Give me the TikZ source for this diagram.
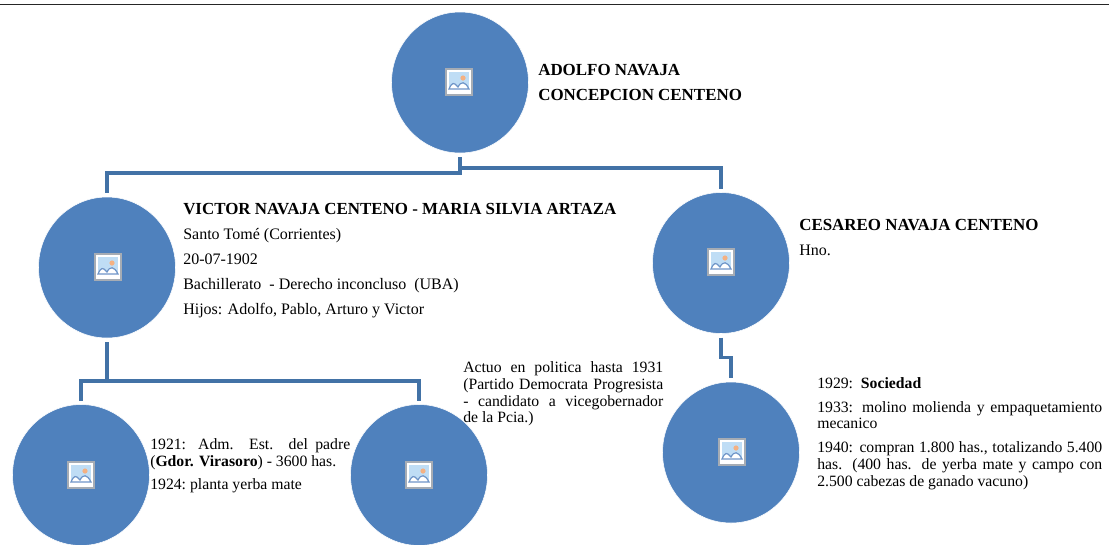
\documentclass[tikz,border=0pt]{standalone}
\usepackage{fontspec}
\setmainfont{Liberation Serif}
\usepackage{tikz}
\usetikzlibrary{shapes.geometric}
\definecolor{circblue}{HTML}{4F81BD}
\definecolor{linkblue}{HTML}{4272A6}
\definecolor{iconsky}{HTML}{BFDDF5}
\definecolor{iconedge}{HTML}{A6ACB4}
\definecolor{iconhill}{HTML}{6F95C8}
\definecolor{iconsun}{HTML}{F4B183}
\newcommand{\notefont}{\fontsize{11.8}{12.7}\selectfont\setlength{\parskip}{5.2pt}\hyphenpenalty=10000 }
\tikzset{
    person/.style={ellipse, fill=circblue, draw=white, line width=0.4pt, minimum width=102.75pt, minimum height=105.75pt, inner sep=0pt, outer sep=3pt},
    link/.style={draw=linkblue, line width=2.6pt},
    headtxt/.style={anchor=north west, inner sep=0pt, align=left, font=\fontsize{12.7}{18.75}\selectfont},
    bio/.style={anchor=north west, inner sep=0pt, align=left, font=\fontsize{12}{18.75}\selectfont},
    note/.style={anchor=north west, inner sep=0pt, align=justify, font=\notefont},
    imgicon/.pic={
        \fill[white] (-13,-13) rectangle (13,13);
        \draw[iconedge, line width=0.9pt] (-13,-13) rectangle (13,13);
        \fill[iconsky] (-10,-10) rectangle (10,7);
        \fill[iconsun] (4,-4) circle (2.6);
        \draw[iconhill, fill=white, line width=0.9pt] (-10,7) .. controls (-7,0) and (-5,0) .. (-1,5) .. controls (2,-1) and (6,-1) .. (10,7) -- cycle;
    }
}
\begin{document}
\begin{tikzpicture}[x=0.75pt, y=-0.75pt]
    \useasboundingbox (0,0) rectangle (1109,544);
    \coordinate (ruleL) at (0,4.5);
    \coordinate (ruleR) at (1109,4.5);
    \draw[black!85, line width=1.1pt] (ruleL) -- (ruleR);

    \node[person] at (460,82.5)  (adolfo) {};
    \node[person] at (107,267.5) (victor) {};
    \node[person] at (721,263)   (cesareo) {};
    \node[person] at (81,475)    (admin) {};
    \node[person] at (419,475)   (politica) {};
    \node[person] at (731,452.5) (sociedad) {};

    \foreach \px/\py in {459/82, 108/267, 721/262, 81/475, 419/475, 732/452}
        \pic at (\px,\py) {imgicon};

    \draw[link] (adolfo.south) -- ++(0,16) -| (victor.north);
    \draw[link] (adolfo.south) -- ++(0,11) -| (cesareo.north);
    \draw[link] (victor.south) -- ++(0,39) -| (admin.north);
    \draw[link] (victor.south) -- ++(0,39) -| (politica.north);
    \draw[link] (cesareo.south) -- ++(0,20) -| (sociedad.north);

    \node[headtxt] at (538,64) (adolfotxt) {\textbf{ADOLFO NAVAJA}\\\textbf{CONCEPCION CENTENO}};
    \node[bio] at (183,203) (victortxt) {{\fontsize{12.7}{18.75}\selectfont\textbf{VICTOR NAVAJA CENTENO - MARIA SILVIA ARTAZA}}\\
        Santo Tomé (Corrientes)\\
        20-07-1902\\
        Bachillerato\ \ - Derecho inconcluso\ \ (UBA)\\
        Hijos: Adolfo,\ Pablo, Arturo y Victor};
    \node[bio] at (799,219) (cesareotxt) {{\fontsize{12.7}{18.75}\selectfont\textbf{CESAREO NAVAJA CENTENO}}\\Hno.};
    \node[note, text width=150pt] at (150,438) (admintxt) {1921: Adm. Est. del padre\linebreak (\textbf{Gdor. Virasoro}) - 3600 has.\par 1924:\ planta yerba mate};
    \node[note, text width=150pt] at (463,361) (politicatxt) {Actuo en politica hasta 1931\linebreak (Partido Democrata Progresista\linebreak - candidato a vicegobernador\linebreak de la Pcia.)};
    \node[note, text width=213.75pt] at (817,377) (sociedadtxt) {1929:\ \ \textbf{Sociedad}\par 1933: molino molienda y empaquetamiento mecanico\par 1940: compran 1.800 has., totalizando 5.400 has. (400 has. de yerba mate y campo con 2.500 cabezas de ganado vacuno)};
\end{tikzpicture}
\end{document}
